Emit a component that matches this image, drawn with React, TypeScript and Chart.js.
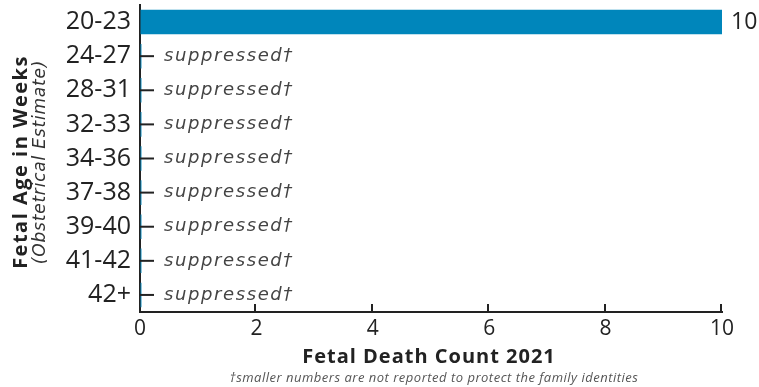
import React, { useEffect, useRef } from "react";
import Chart from "chart.js/auto";

const categories = ["20-23", "24-27", "28-31", "32-33", "34-36", "37-38", "39-40", "41-42", "42+"];
const counts = [10, 0.025, 0.025, 0.025, 0.025, 0.025, 0.025, 0.025, 0.025];
const suppressed = [false, true, true, true, true, true, true, true, true];
const xTicks = [0, 2, 4, 6, 8, 10];
const xTitle = "Fetal Death Count 2021";
const yTitle = "Fetal Age in Weeks";
const ySubtitle = "(Obstetrical Estimate)";
const footnote = "\u2020smaller numbers are not reported to protect the family identities";
const suppressedLabel = "suppressed\u2020";

const FONT = "'Open Sans', 'DejaVu Sans', sans-serif";
const WIDE = "'DejaVu Sans', sans-serif";
const INK = "#222222";
const BLUE = "#0086BB";

export default function App() {
  const ref = useRef<HTMLCanvasElement | null>(null);

  useEffect(() => {
    document.body.style.margin = "0";
    const canvas = ref.current;
    if (!canvas) return;

    const annotate = {
      id: "annotate",
      afterDatasetsDraw(chart: any) {
        const ctx = chart.ctx;
        const area = chart.chartArea;
        const xs = chart.scales.x;
        const meta = chart.getDatasetMeta(0);
        ctx.save();
        // inner x ticks
        ctx.strokeStyle = INK;
        ctx.lineWidth = 2;
        xTicks.forEach((v) => {
          if (v === 0) return;
          const px = Math.round(xs.getPixelForValue(v)) - 1;
          ctx.beginPath();
          ctx.moveTo(px, area.bottom);
          ctx.lineTo(px, area.bottom - 8);
          ctx.stroke();
        });
        meta.data.forEach((bar: any, i: number) => {
          const y = bar.y;
          if (suppressed[i]) {
            ctx.strokeStyle = INK;
            ctx.lineWidth = 2;
            ctx.beginPath();
            ctx.moveTo(area.left, y);
            ctx.lineTo(area.left + 14, y);
            ctx.stroke();
            ctx.font = `oblique 18px ${WIDE}`;
            (ctx as any).letterSpacing = "1.6px";
            ctx.fillStyle = "#444444";
            ctx.textAlign = "left";
            ctx.textBaseline = "middle";
            ctx.fillText(suppressedLabel, area.left + 24, y);
            (ctx as any).letterSpacing = "0px";
          } else {
            ctx.font = `23px ${FONT}`;
            ctx.fillStyle = INK;
            ctx.textAlign = "left";
            ctx.textBaseline = "middle";
            ctx.fillText(String(counts[i]), bar.x + 9, y);
          }
        });
        // x title
        ctx.fillStyle = INK;
        ctx.textAlign = "center";
        ctx.textBaseline = "middle";
        ctx.font = `bold 20px ${FONT}`;
        (ctx as any).letterSpacing = "1px";
        ctx.fillText(xTitle, 429, 357);
        ctx.font = `italic 13px ${FONT}`;
        (ctx as any).letterSpacing = "0.5px";
        ctx.fillStyle = "#555555";
        ctx.fillText(footnote, 434, 378);
        // y titles
        const cy = 162;
        ctx.save();
        ctx.translate(21, cy);
        ctx.rotate(-Math.PI / 2);
        ctx.font = `bold 20px ${FONT}`;
        (ctx as any).letterSpacing = "1.5px";
        ctx.fillStyle = INK;
        ctx.fillText(yTitle, 0, 0);
        ctx.restore();
        ctx.save();
        ctx.translate(41, cy);
        ctx.rotate(-Math.PI / 2);
        ctx.font = `oblique 17px ${WIDE}`;
        (ctx as any).letterSpacing = "0.8px";
        ctx.fillStyle = "#333333";
        ctx.fillText(ySubtitle, 0, 0);
        ctx.restore();
        (ctx as any).letterSpacing = "0px";
        ctx.restore();
      },
    };

    const chart = new Chart(canvas, {
      type: "bar",
      data: {
        labels: categories,
        datasets: [
          {
            data: counts,
            backgroundColor: BLUE,
            borderWidth: 0,
            barPercentage: 0.72,
            categoryPercentage: 1,
          },
        ],
      },
      options: {
        indexAxis: "y",
        animation: false,
        responsive: false,
        maintainAspectRatio: false,
        layout: { padding: { top: 5, right: 37, left: 0, bottom: 0 } },
        plugins: {
          legend: { display: false },
          tooltip: { enabled: false },
          title: { display: false },
        },
        scales: {
          x: {
            min: 0,
            max: 10,
            ticks: {
              stepSize: 2,
              color: INK,
              font: { family: FONT, size: 21 },
              padding: 4,
            },
            grid: { drawOnChartArea: false, drawTicks: false },
            border: { color: INK, width: 2 },
            afterFit: (s: any) => {
              s.height = 75;
              s.paddingLeft = 0;
              s.paddingRight = 0;
            },
          },
          y: {
            ticks: {
              color: INK,
              font: { family: FONT, size: 25 },
              padding: 9,
            },
            grid: { drawOnChartArea: false, drawTicks: false },
            border: { color: INK, width: 2 },
            afterFit: (s: any) => {
              s.width = 140;
              s.paddingTop = 0;
              s.paddingBottom = 0;
            },
          },
        },
      },
      plugins: [annotate],
    } as any);

    return () => chart.destroy();
  }, []);

  return (
    <div style={{ width: 759, height: 387 }}>
      <canvas ref={ref} width={759} height={387} style={{ display: "block" }} />
    </div>
  );
}
